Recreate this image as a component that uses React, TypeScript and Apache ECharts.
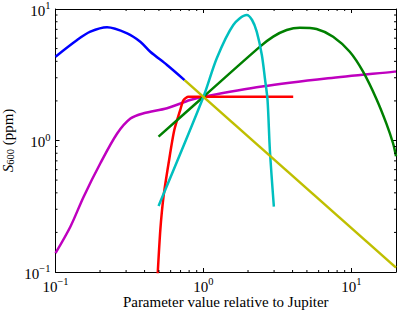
import React, { useEffect, useRef } from "react";
import * as echarts from "echarts";

const xMin = 0.1;
const xMax = 20;
const yMin = 0.1;
const yMax = 10;

const blueX = [0.1, 0.14, 0.172, 0.223, 0.305, 0.374, 0.437, 0.567, 0.745];
const blueY = [4.34, 5.81, 6.72, 7.26, 6.53, 5.64, 4.73, 3.75, 2.88];

const yellowX = [0.745, 20];
const yellowY = [2.88, 0.108];

const magentaX = [0.1, 0.126, 0.155, 0.201, 0.261, 0.321, 0.394, 0.567, 0.813, 1, 2.48, 6.95, 19.6, 20];
const magentaY = [0.139, 0.221, 0.374, 0.671, 1.13, 1.47, 1.61, 1.76, 2.03, 2.15, 2.57, 2.97, 3.34, 3.35];

const redX = [0.49, 0.511, 0.537, 0.581, 0.635, 0.697, 0.733, 0.792, 1, 4.04];
const redY = [0.095, 0.209, 0.374, 0.671, 1.2, 1.71, 2.03, 2.15, 2.15, 2.15];

const greenX = [0.497, 1, 2.41, 2.96, 3.65, 4.48, 5.81, 7.52, 9.74, 11.98, 14.7, 17.2, 19.1, 20];
const greenY = [1.07, 2.15, 5.17, 6.16, 6.92, 7.21, 7.05, 6.16, 4.73, 3.34, 2.09, 1.35, 0.953, 0.76];

const cyanX = [0.497, 1, 1.23, 1.59, 1.96, 2.13, 2.29, 2.48, 2.61, 2.71, 2.81, 2.99];
const cyanY = [0.318, 2.15, 4.22, 7.55, 9.0, 8.25, 6.72, 4.47, 2.88, 2.03, 0.847, 0.314];

const xMinorTicks = [0.2, 0.3, 0.4, 0.5, 0.6, 0.7, 0.8, 0.9, 2, 3, 4, 5, 6, 7, 8, 9];
const yMinorTicks = [0.2, 0.3, 0.4, 0.5, 0.6, 0.7, 0.8, 0.9, 2, 3, 4, 5, 6, 7, 8, 9];

const xTitle = "Parameter value relative to Jupiter";

const FONT = "Liberation Serif";

const zip = (xs: number[], ys: number[]) => xs.map((x, i) => [x, ys[i]]);

const powLabel = (v: number) => {
  const l = Math.log10(v);
  const e = Math.round(l);
  if (Math.abs(l - e) > 1e-6) return "";
  return `{b|10}{s|${e < 0 ? "\u2212" + Math.abs(e) : e}}`;
};

const labelRich = {
  b: { fontFamily: FONT, fontSize: 15, color: "#000", lineHeight: 18, verticalAlign: "bottom" },
  s: { fontFamily: FONT, fontSize: 10.5, color: "#000", lineHeight: 10, verticalAlign: "top" },
};

export default function App() {
  const ref = useRef<HTMLDivElement>(null);
  useEffect(() => {
    if (!ref.current) return;
    const chart = echarts.init(ref.current, undefined, { renderer: "svg" });
    const lineS = (data: number[][], color: string, smooth: number | boolean, z = 2) => ({
      type: "line",
      data,
      showSymbol: false,
      symbol: "none",
      smooth,
      lineStyle: { color, width: 2.5 },
      z,
      xAxisIndex: 0,
      yAxisIndex: 0,
    });
    const tickData: number[][] = [
      ...xMinorTicks.map((v) => [v, 1, 0]),
      ...yMinorTicks.map((v) => [1, v, 1]),
    ];
    const common = {
      type: "log",
      logBase: 10,
      splitLine: { show: false },
      axisLine: { show: true, lineStyle: { color: "#000", width: 1 } },
      axisTick: { show: true, inside: true, length: 4, lineStyle: { color: "#000", width: 1 } },
      minorTick: { show: false },
    };
    chart.setOption({
      animation: false,
      grid: { left: 55.5, top: 9, right: 3, bottom: 40, containLabel: false, outerBoundsMode: "none" },
      xAxis: [
        {
          ...common,
          position: "bottom",
          min: xMin,
          max: xMax,
          name: xTitle,
          nameLocation: "middle",
          nameGap: 22,
          nameMoveOverlap: false,
          nameTextStyle: { fontFamily: FONT, fontSize: 15, lineHeight: 15, color: "#000" },
          axisLabel: {
            show: true,
            margin: 4,
            showMaxLabel: false,
            formatter: powLabel,
            rich: labelRich,
          },
        },
        {
          ...common,
          position: "top",
          min: xMin,
          max: xMax,
          axisLabel: { show: false },
        },
      ],
      yAxis: [
        {
          ...common,
          position: "left",
          min: yMin,
          max: yMax,
          name: "{i|S}{sub|600}{n| (ppm)}",
          nameLocation: "middle",
          nameGap: 40,
          nameMoveOverlap: false,
          nameTextStyle: {
            rich: {
              i: { fontFamily: FONT, fontStyle: "italic", fontSize: 15, color: "#000", lineHeight: 14, verticalAlign: "bottom" },
              sub: { fontFamily: FONT, fontSize: 10.5, color: "#000", lineHeight: 10, verticalAlign: "bottom" },
              n: { fontFamily: FONT, fontSize: 15, color: "#000", lineHeight: 14, verticalAlign: "bottom" },
            },
          },
          axisLabel: {
            show: true,
            margin: 5,
            formatter: powLabel,
            rich: labelRich,
          },
        },
        {
          ...common,
          position: "right",
          min: yMin,
          max: yMax,
          axisLabel: { show: false },
        },
      ],
      series: [
        lineS(zip(blueX, blueY), "#0000ff", 0.3, 2),
        lineS(zip(yellowX, yellowY), "#bfbf00", false, 3),
        lineS(zip(magentaX, magentaY), "#bf00bf", 0.3, 2),
        lineS(zip(redX, redY), "#ff0000", 0.25, 2),
        lineS(zip(greenX, greenY), "#008000", 0.3, 2),
        lineS(zip(cyanX, cyanY), "#00bfbf", 0.3, 2),
        {
          type: "custom",
          xAxisIndex: 0,
          yAxisIndex: 0,
          data: tickData,
          encode: { x: 0, y: 1 },
          clip: false,
          z: 5,
          renderItem: (params: any, api: any) => {
            const kind = api.value(2);
            const len = 2;
            const st = { stroke: "#000", lineWidth: 1 };
            if (kind === 0) {
              const v = api.value(0);
              const b = api.coord([v, yMin]);
              const t = api.coord([v, yMax]);
              return {
                type: "group",
                children: [
                  { type: "line", shape: { x1: b[0], y1: b[1], x2: b[0], y2: b[1] - len }, style: st },
                  { type: "line", shape: { x1: t[0], y1: t[1], x2: t[0], y2: t[1] + len }, style: st },
                ],
              };
            }
            const v = api.value(1);
            const l = api.coord([xMin, v]);
            const r = api.coord([xMax, v]);
            return {
              type: "group",
              children: [
                { type: "line", shape: { x1: l[0], y1: l[1], x2: l[0] + len, y2: l[1] }, style: st },
                { type: "line", shape: { x1: r[0], y1: r[1], x2: r[0] - len, y2: r[1] }, style: st },
              ],
            };
          },
        },
      ],
    } as any);
    return () => chart.dispose();
  }, []);
  return (
    <div
      ref={ref}
      style={{ position: "fixed", left: 0, top: 0, width: 399, height: 312, background: "#fff" }}
    />
  );
}
